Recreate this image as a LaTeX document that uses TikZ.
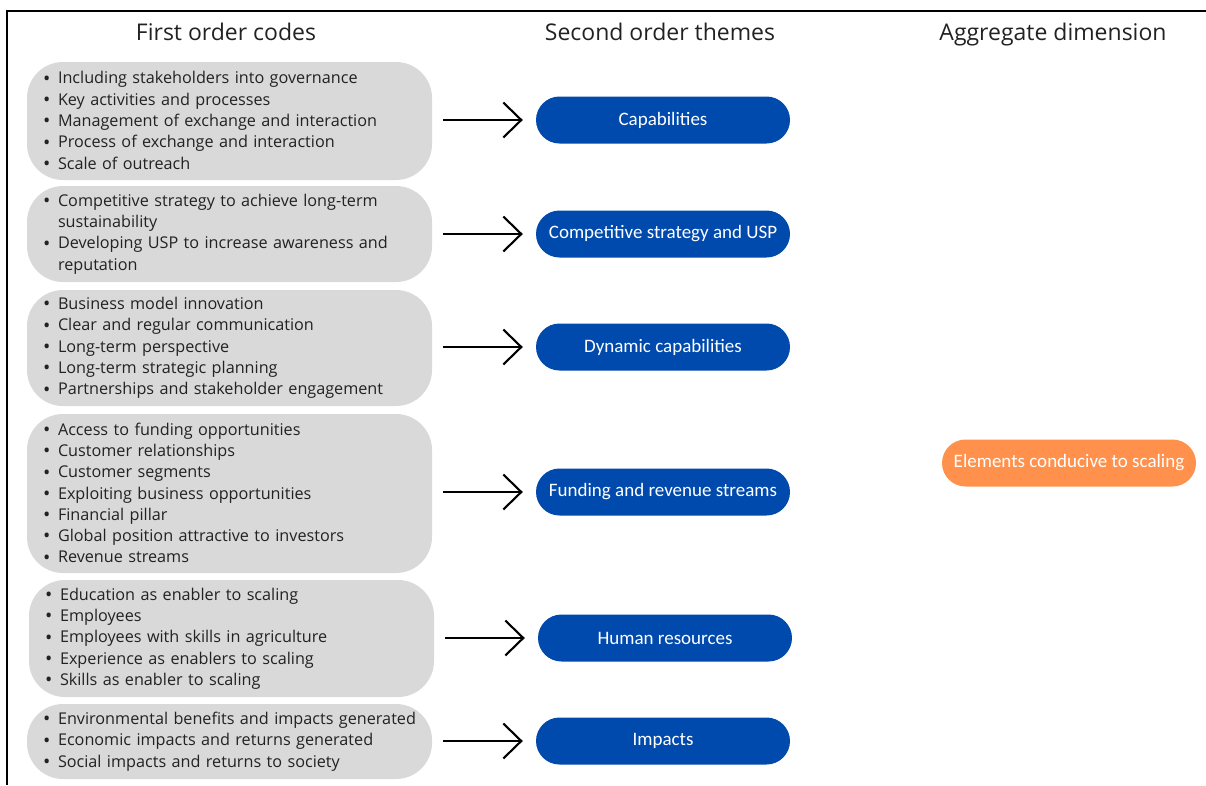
\documentclass[tikz,border=0pt]{standalone}
\usepackage{fontspec}
\setmainfont{Open Sans}
\newfontfamily\boxfont{Carlito}
\usetikzlibrary{arrows.meta}
\definecolor{codegray}{HTML}{D9D9D9}
\definecolor{themeblue}{HTML}{004AAD}
\definecolor{aggorange}{HTML}{FF914D}
\definecolor{inktext}{HTML}{222222}
% one bulleted line and one continuation line of a code list
\newcommand\bl[1]{\makebox[15pt][l]{\raisebox{-0.15ex}{\scalebox{1.2}{\textbullet}}}#1}
\newcommand\cl[1]{\hspace*{15pt}#1}
\tikzset{
  header/.style={text=inktext, font=\fontsize{23}{26}\selectfont, inner sep=0pt, anchor=base},
  codes/.style={fill=codegray, draw=none, rounded corners=36pt, minimum width=405pt,
    text width=373pt, inner xsep=16pt, inner ysep=0pt, align=left, text=inktext,
    font=\fontsize{16.2}{21.3}\selectfont},
  theme/.style={fill=themeblue, draw=none, rounded corners=23.5pt, minimum width=254pt,
    minimum height=47pt, inner sep=0pt, text=white, font=\boxfont\fontsize{19}{22}\selectfont},
  aggregate/.style={theme, fill=aggorange},
  link/.style={line width=2.1pt, -{Straight Barb[length=18pt,width=35pt,line width=2.1pt]},
    shorten <=11pt, shorten >=13pt},
}
\begin{document}
\begin{tikzpicture}[x=1pt,y=-1pt]
\useasboundingbox (0,0) rectangle (1206,785);
% frame
\draw[line width=2pt] (1206,11) -- (7,11) -- (7,785);

% column headings
\node[header] (h1) at (226,40) {First order codes};
\node[header] (h2) at (660,40) {Second order themes};
\node[header] (h3) at (1053,40) {Aggregate dimension};

% first order codes
\node[codes, minimum height=118pt] (g1) at (229.5,121) {%
  \bl{Including stakeholders into governance}\\
  \bl{Key activities and processes}\\
  \bl{Management of exchange and interaction}\\
  \bl{Process of exchange and interaction}\\
  \bl{Scale of outreach}};
\node[codes, minimum height=96pt] (g2) at (229.5,234) {%
  \bl{Competitive strategy to achieve long-term}\\
  \cl{sustainability}\\
  \bl{Developing USP to increase awareness and}\\
  \cl{reputation}};
\node[codes, minimum height=116pt] (g3) at (229.5,348) {%
  \bl{Business model innovation}\\
  \bl{Clear and regular communication}\\
  \bl{Long-term perspective}\\
  \bl{Long-term strategic planning}\\
  \bl{Partnerships and stakeholder engagement}};
\node[codes, minimum height=159pt] (g4) at (229.5,493.5) {%
  \bl{Access to funding opportunities}\\
  \bl{Customer relationships}\\
  \bl{Customer segments}\\
  \bl{Exploiting business opportunities}\\
  \bl{Financial pillar}\\
  \bl{Global position attractive to investors}\\
  \bl{Revenue streams}};
\node[codes, minimum height=117pt] (g5) at (231.5,638.5) {%
  \bl{Education as enabler to scaling}\\
  \bl{Employees}\\
  \bl{Employees with skills in agriculture}\\
  \bl{Experience as enablers to scaling}\\
  \bl{Skills as enabler to scaling}};
\node[codes, minimum height=75pt] (g6) at (229.5,741.5) {%
  \bl{Environmental benefits and impacts generated}\\
  \bl{Economic impacts and returns generated}\\
  \bl{Social impacts and returns to society}};

% second order themes
\node[theme] (b1) at (663,120) {Capabilities};
\node[theme] (b2) at (663,234) {Competitive strategy and USP};
\node[theme] (b3) at (663,347) {Dynamic capabilities};
\node[theme] (b4) at (663,492) {Funding and revenue streams};
\node[theme] (b5) at (665,638) {Human resources};
\node[theme] (b6) at (663,741) {Impacts};

% aggregate dimension
\node[aggregate] (a1) at (1069,463) {Elements conducive to scaling};

% codes feed their themes
\foreach \i in {1,...,6}
  \draw[link] (b\i.west -| g\i.east) -- (b\i.west);
\end{tikzpicture}
\end{document}
